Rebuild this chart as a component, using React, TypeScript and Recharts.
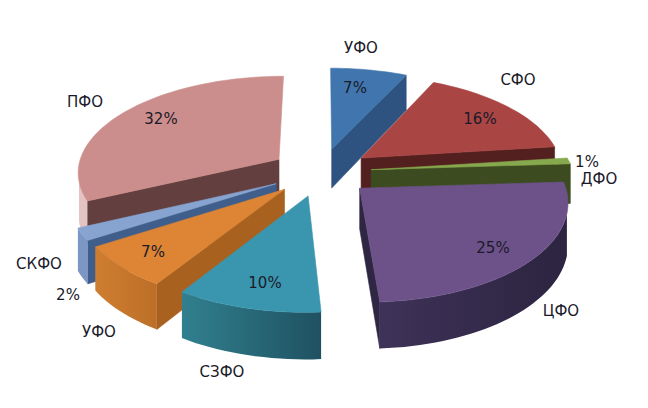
import { PieChart, Pie } from 'recharts';

const categories = ['УФО', 'СФО', 'ДФО', 'ЦФО', 'СЗФО', 'УФО', 'СКФО', 'ПФО'];
const shares = [7, 16, 1, 25, 10, 7, 2, 32];

// colours per slice
const topColors = ['#4076AD', '#A94543', '#86A94E', '#6D5289', '#3A96AF', '#DD8534', '#87A4D1', '#CC8E8C'];
const cutColors = ['#2F5380', '#54201F', '#3C4C20', '#2F2644', '#2A6F85', '#A9611F', '#3F5E8B', '#633F3F'];
const rimLeftColors = ['#2F5380', '#54201F', '#3C4C20', '#3E3258', '#31808F', '#CF7E30', '#7C97C3', '#E3C4C3'];
const rimRightColors = ['#2F5380', '#54201F', '#3C4C20', '#2C2440', '#1F5161', '#BC6F28', '#7C97C3', '#E3C4C3'];

// back to front
const drawOrder = [0, 7, 1, 2, 6, 3, 5, 4];

// label anchors
const nameAnchors = [[361, 48], [518, 80], [599, 179], [561, 311], [222, 372], [99, 332], [39, 264], [85, 102]];
const valueAnchors = [[355, 88], [480, 119], [587, 162], [493, 248], [265, 283], [153, 252], [68, 295], [161, 119]];

const rows = categories.map((name, i) => ({ name, share: shares[i], slot: i }));

const CX = 321;
const CY = 172;
const RADIUS = 202;
const SQUASH = 96 / 202;
const PERSPECTIVE = 0.121;
const DEPTH = 40;
const EXPLODE = 0.25;

const project = (u: number, v: number, z: number) => {
  const w = 1 - PERSPECTIVE * v;
  return [CX + (RADIUS * u) / w, CY + (RADIUS * SQUASH * v) / w + (DEPTH * z) / w];
};

const area = (pts: number[][]) =>
  pts.reduce((sum, p, i) => {
    const q = pts[(i + 1) % pts.length];
    return sum + p[0] * q[1] - q[0] * p[1];
  }, 0);

const toPoints = (pts: number[][]) => pts.map((p) => `${p[0].toFixed(1)},${p[1].toFixed(1)}`).join(' ');

function Slice(props: any) {
  const slot = props.slot ?? props.payload?.slot;
  const a1 = ((90 - props.startAngle) * Math.PI) / 180;
  const a2 = ((90 - props.endAngle) * Math.PI) / 180;
  const mid = (a1 + a2) / 2;
  const ou = EXPLODE * Math.sin(mid);
  const ov = -EXPLODE * Math.cos(mid);
  const steps = Math.max(2, Math.ceil(((a2 - a1) * 180) / Math.PI / 2));
  const rim: number[][] = [];
  for (let i = 0; i <= steps; i++) {
    const a = a1 + ((a2 - a1) * i) / steps;
    rim.push([ou + Math.sin(a), ov - Math.cos(a)]);
  }
  const apex = [ou, ov];
  const quad = (p: number[], q: number[]) => [
    project(p[0], p[1], 0),
    project(q[0], q[1], 0),
    project(q[0], q[1], 1),
    project(p[0], p[1], 1),
  ];
  // slivers nearly edge-on are left out, the reference does not show them
  const cuts = [quad(rim[steps], apex), quad(apex, rim[0])].filter(
    (q) => area(q) < 0 && Math.abs(q[0][0] - q[1][0]) > 7,
  );
  const outer = rim
    .slice(0, -1)
    .map((p, i) => quad(p, rim[i + 1]))
    .filter((q) => area(q) < -60);
  const rimWall = outer.length
    ? [...outer.map((q) => q[0]), outer[outer.length - 1][1], outer[outer.length - 1][2], ...outer.map((q) => q[3]).reverse()]
    : [];
  const xs = rimWall.map((p) => p[0]);
  const top = [project(apex[0], apex[1], 0), ...rim.map((p) => project(p[0], p[1], 0))];
  const gradId = `rim-${slot}`;

  return (
    <g>
      {cuts.map((q, i) => (
        <polygon key={i} points={toPoints(q)} fill={cutColors[slot]} stroke={cutColors[slot]} strokeWidth={0.6} />
      ))}
      {rimWall.length > 0 && (
        <>
          <defs>
            <linearGradient id={gradId} gradientUnits="userSpaceOnUse" x1={Math.min(...xs)} y1={0} x2={Math.max(...xs)} y2={0}>
              <stop offset="0%" stopColor={rimLeftColors[slot]} />
              <stop offset="100%" stopColor={rimRightColors[slot]} />
            </linearGradient>
          </defs>
          <polygon points={toPoints(rimWall)} fill={`url(#${gradId})`} />
        </>
      )}
      <polygon points={toPoints(top)} fill={topColors[slot]} stroke={topColors[slot]} strokeWidth={0.6} />
    </g>
  );
}

function SliceText(props: any) {
  const slot = props.slot ?? props.payload?.slot;
  const style = { fontFamily: '"DejaVu Sans", sans-serif', fontSize: 15 };
  return (
    <g>
      <text x={nameAnchors[slot][0]} y={nameAnchors[slot][1]} dy="0.36em" textAnchor="middle" fill="#1a1a2a" style={style}>
        {categories[slot]}
      </text>
      <text x={valueAnchors[slot][0]} y={valueAnchors[slot][1]} dy="0.36em" textAnchor="middle" fill="#1a1a2a" style={style}>
        {shares[slot]}%
      </text>
    </g>
  );
}

export default function App() {
  return (
    <div style={{ position: 'absolute', left: 0, top: 0, width: 648, height: 408, background: '#fff' }}>
      <PieChart width={648} height={408} margin={{ top: 0, right: 0, bottom: 0, left: 0 }}>
        {drawOrder.map((slot) => (
          <Pie
            key={slot}
            data={rows}
            dataKey="share"
            nameKey="name"
            cx={CX}
            cy={CY}
            outerRadius={RADIUS}
            startAngle={90}
            endAngle={-270}
            stroke="none"
            isAnimationActive={false}
            shape={(p: any) => ((p.slot ?? p.payload?.slot) === slot ? <Slice {...p} /> : <g />)}
          />
        ))}
        <Pie
          data={rows}
          dataKey="share"
          nameKey="name"
          cx={CX}
          cy={CY}
          outerRadius={RADIUS}
          startAngle={90}
          endAngle={-270}
          stroke="none"
          isAnimationActive={false}
          shape={(p: any) => <SliceText {...p} />}
        />
      </PieChart>
    </div>
  );
}
